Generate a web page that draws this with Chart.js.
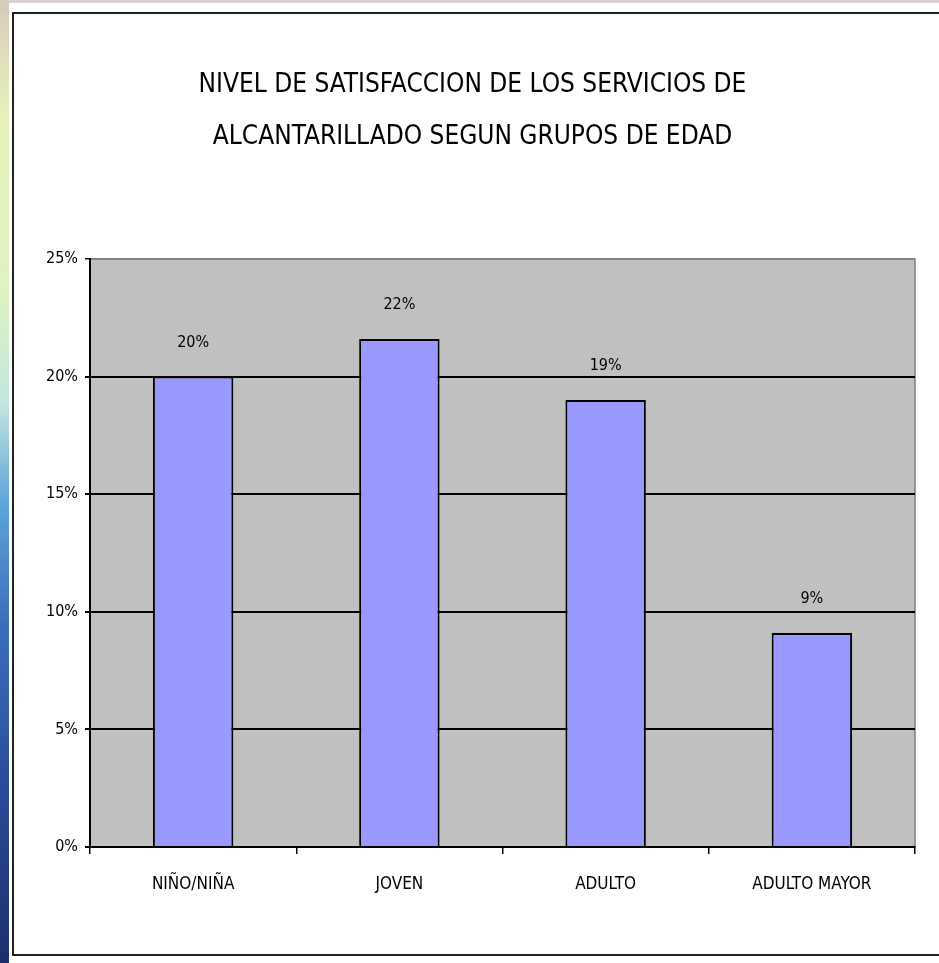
<!DOCTYPE html>
<html>
<head>
<meta charset="utf-8">
<script src="https://cdn.jsdelivr.net/npm/chart.js@4/dist/chart.umd.min.js"></script>
<style>
  html, body { margin: 0; padding: 0; background: #fff; }
  body { width: 939px; height: 963px; position: relative; overflow: hidden; }
  .strip {
    position: absolute; left: 0; top: 0; width: 9px; height: 963px;
    background: linear-gradient(to bottom, #d9c9bd 0%, #e6f2b8 12%, #dff3c0 30%, #bfe6e0 42%, #5fa6d8 52%, #3a6fb8 65%, #2a4d98 82%, #1c2f6a 100%);
  }
  .topline { position: absolute; left: 0; top: 0; width: 939px; height: 3px; background: #d8d0cc; }
  .frame {
    position: absolute; left: 12px; top: 12px; width: 940px; height: 944px;
    border: 2px solid #222; box-sizing: border-box;
  }
  #wrap { position: absolute; left: 0; top: 0; width: 939px; height: 963px; }
</style>
</head>
<body>
<div class="topline"></div>
<div class="strip"></div>
<div class="frame"></div>
<div id="wrap"><canvas id="myChart"></canvas></div>
<script>
const categories = ['NIÑO/NIÑA', 'JOVEN', 'ADULTO', 'ADULTO MAYOR'];
const satisfaction = [20, 21.6, 19.0, 9.1];
const valueLabels = ['20%', '22%', '19%', '9%'];
const titleLines = ['NIVEL DE SATISFACCION DE LOS SERVICIOS DE', 'ALCANTARILLADO SEGUN GRUPOS DE EDAD'];

const narrow = '"Liberation Sans Narrow", "DejaVu Sans Condensed", "Liberation Sans", Arial, sans-serif';

// gray plot area with a gray frame, like the old excel chart
const plotBackground = {
    id: 'plotBackground',
    beforeDraw(chart) {
        const {ctx, chartArea: a} = chart;
        ctx.save();
        ctx.fillStyle = '#c0c0c0';
        ctx.fillRect(a.left, a.top, a.right - a.left, a.bottom - a.top);
        ctx.strokeStyle = '#808080';
        ctx.lineWidth = 1.5;
        ctx.strokeRect(a.left, a.top, a.right - a.left, a.bottom - a.top);
        ctx.restore();
    }
};

// value labels above bars
const barLabels = {
    id: 'barLabels',
    afterDatasetsDraw(chart) {
        const ctx = chart.ctx;
        ctx.save();
        ctx.fillStyle = '#000';
        ctx.font = '16px ' + narrow;
        ctx.textAlign = 'center';
        ctx.textBaseline = 'middle';
        chart.getDatasetMeta(0).data.forEach((bar, i) => {
            ctx.fillText(valueLabels[i], bar.x, bar.y - 34);
        });
        ctx.restore();
    }
};

const ctx = document.getElementById('myChart').getContext('2d');

const myChart = new Chart(ctx, {
    type: 'bar',
    data: {
        labels: categories,
        datasets: [{
            data: satisfaction,
            backgroundColor: '#9999ff',
            borderColor: '#000',
            borderWidth: 2,
            barPercentage: 0.39,
            categoryPercentage: 1
        }]
    },
    options: {
        animation: false,
        responsive: true,
        maintainAspectRatio: false,
        layout: {
            padding: {left: 30, right: 24, top: 0, bottom: 60}
        },
        scales: {
            x: {
                grid: {
                    drawOnChartArea: false,
                    drawTicks: true,
                    tickLength: 7,
                    color: '#000',
                    lineWidth: 1.5
                },
                border: {color: '#000', width: 2},
                ticks: {
                    color: '#000',
                    padding: 20,
                    font: {family: narrow, size: 17}
                },
                afterFit(scale) { scale.height = 56; }
            },
            y: {
                min: 0,
                max: 25,
                grid: {
                    color: c => c.tick && c.tick.value === 25 ? '#808080' : '#000',
                    lineWidth: c => c.tick && c.tick.value === 25 ? 1.5 : 2,
                    tickColor: '#000',
                    tickLength: 5
                },
                border: {color: '#000', width: 2},
                ticks: {
                    stepSize: 5,
                    color: '#000',
                    padding: 7,
                    font: {family: narrow, size: 16},
                    callback: v => v + '%'
                },
                afterFit(scale) { scale.width = 60; }
            }
        },
        plugins: {
            legend: {display: false},
            tooltip: {enabled: false},
            title: {
                display: true,
                text: titleLines,
                color: '#000',
                font: {family: narrow, size: 26, weight: 'normal', lineHeight: 52 / 26},
                padding: {top: 59, bottom: 96}
            }
        }
    },
    plugins: [plotBackground, barLabels]
});
</script>
</body>
</html>
